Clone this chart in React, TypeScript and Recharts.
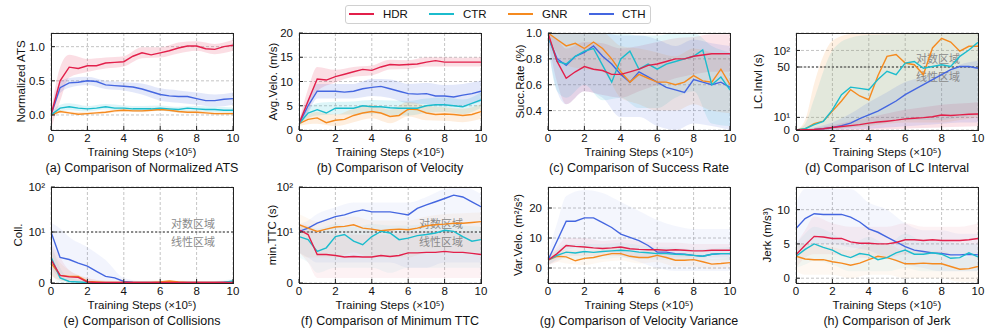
import React from "react";
import {
  ComposedChart,
  Line,
  Area,
  XAxis,
  YAxis,
  CartesianGrid,
  ReferenceLine,
} from "recharts";

const FONT = '"Liberation Sans", Arial, Helvetica, sans-serif';
const CJK = '"Noto Sans CJK SC", "Noto Sans", sans-serif';

const SERIES = ["HDR", "CTR", "GNR", "CTH"] as const;
type S = (typeof SERIES)[number];
const COLORS: Record<S, string> = {
  HDR: "#e21f4a",
  CTR: "#1bbccd",
  GNR: "#f58a1f",
  CTH: "#4466e0",
};

// x positions (×10^5 training steps)
const STEPS = [0, 0.5, 1, 1.5, 2, 2.5, 3, 3.5, 4, 4.5, 5, 5.5, 6, 6.5, 7, 7.5, 8, 8.5, 9, 9.5, 10];
const BAND_STEPS = [0, 0.5, 1, 2, 3, 4, 5, 6, 7, 8, 9, 10];
const X_TICKS = [0, 2, 4, 6, 8, 10];

// (a) normalized ATS
const atsHDR = [0, 0.5, 0.7, 0.68, 0.72, 0.72, 0.76, 0.77, 0.78, 0.86, 0.91, 0.88, 0.91, 0.94, 0.98, 1.01, 1.01, 0.97, 0.96, 1.0, 1.02];
const atsCTR = [0, 0.1, 0.12, 0.1, 0.09, 0.1, 0.12, 0.1, 0.1, 0.09, 0.09, 0.09, 0.1, 0.09, 0.08, 0.1, 0.09, 0.08, 0.08, 0.07, 0.07];
const atsGNR = [0, 0.05, 0.03, 0.01, 0.02, 0.03, 0.04, 0.06, 0.07, 0.06, 0.06, 0.07, 0.08, 0.07, 0.05, 0.04, 0.04, 0.03, 0.02, 0.02, 0.02];
const atsCTH = [0, 0.4, 0.47, 0.48, 0.5, 0.49, 0.44, 0.43, 0.42, 0.41, 0.38, 0.34, 0.3, 0.28, 0.27, 0.27, 0.24, 0.21, 0.21, 0.23, 0.24];
const atsHDRBand = [[-0.2, 0.05], [0.2, 0.7], [0.55, 0.88], [0.63, 0.82], [0.68, 0.84], [0.71, 0.86], [0.83, 0.99], [0.84, 0.99], [0.9, 1.06], [0.94, 1.08], [0.89, 1.04], [0.94, 1.1]];
const atsCTRBand = [[-0.03, 0.03], [0.05, 0.15], [0.07, 0.17], [0.05, 0.13], [0.08, 0.16], [0.06, 0.14], [0.05, 0.13], [0.06, 0.14], [0.04, 0.12], [0.05, 0.13], [0.04, 0.12], [0.03, 0.11]];
const atsGNRBand = [[-0.02, 0.02], [0.03, 0.07], [0.01, 0.05], [0, 0.04], [0.02, 0.06], [0.05, 0.09], [0.04, 0.08], [0.06, 0.1], [0.03, 0.07], [0.02, 0.06], [0, 0.04], [0, 0.04]];
const atsCTHBand = [[-0.05, 0.05], [0.32, 0.48], [0.4, 0.54], [0.44, 0.56], [0.38, 0.5], [0.36, 0.48], [0.3, 0.46], [0.21, 0.39], [0.18, 0.36], [0.15, 0.33], [0.12, 0.3], [0.15, 0.33]];

// (b) average velocity
const veloHDR = [1.3, 6, 10.5, 10.3, 11, 11.5, 12, 12.5, 12.3, 13, 13.5, 13.4, 13.5, 13.6, 14, 14.3, 14, 14, 14, 14, 14];
const veloCTR = [1.3, 3.5, 4.2, 3.5, 4.5, 4.5, 4.5, 5, 4.8, 4.8, 4.6, 4.5, 4.5, 4.5, 5, 5.2, 5.2, 5, 4.8, 5.5, 6.2];
const veloGNR = [1.3, 2.2, 2.5, 1.5, 2, 2.2, 3, 3.5, 3.8, 3.5, 2.8, 3, 4.3, 4.2, 3.5, 3.2, 3.3, 3.2, 3, 3.2, 3.8];
const veloCTH = [1.3, 5, 8, 8, 8, 7.8, 8, 8.5, 8.8, 9, 8.5, 8, 7.5, 7.4, 7.5, 7, 7, 6.8, 7.2, 7.5, 8];
const veloHDRBand = [[0.8, 1.8], [4, 8.5], [8, 13], [9.8, 12.4], [11, 13], [11.3, 13.3], [12.5, 14.5], [12.6, 14.4], [13.1, 15], [13.1, 15], [13.1, 14.9], [13.1, 15]];
const veloCTRBand = [[0.8, 1.8], [2.5, 4.5], [3, 5.5], [3.2, 5.8], [3.2, 5.9], [3.4, 6.2], [3.1, 6.1], [3, 6], [3.5, 6.5], [3.7, 6.7], [3.3, 6.3], [4.6, 7.8]];
const veloGNRBand = [[0.8, 1.8], [1.2, 3.2], [1.3, 3.7], [0.8, 3.2], [1.6, 4.4], [2.4, 5.2], [1.4, 4.2], [2.8, 5.8], [2, 5], [1.9, 4.7], [1.6, 4.4], [2.3, 5.3]];
const veloCTHBand = [[0.8, 1.8], [3.5, 6.5], [6.5, 9.5], [6.5, 9.5], [6.5, 9.5], [7, 10.5], [6.6, 10.4], [5.5, 9.5], [5.3, 9.7], [4.9, 9.3], [5, 9.5], [5.8, 10.2]];

// (c) success rate
const succHDR = [1.0, 0.78, 0.65, 0.7, 0.74, 0.72, 0.71, 0.68, 0.68, 0.7, 0.72, 0.75, 0.76, 0.78, 0.8, 0.8, 0.82, 0.83, 0.84, 0.84, 0.84];
const succCTR = [0.98, 0.78, 0.76, 0.82, 0.86, 0.88, 0.75, 0.62, 0.8, 0.86, 0.72, 0.76, 0.72, 0.76, 0.78, 0.8, 0.82, 0.87, 0.6, 0.66, 0.56];
const succGNR = [1.0, 0.95, 0.9, 0.92, 0.88, 0.93, 0.88, 0.8, 0.7, 0.62, 0.68, 0.65, 0.62, 0.62, 0.6, 0.62, 0.67, 0.63, 0.62, 0.72, 0.6];
const succCTH = [0.97, 0.8, 0.75, 0.82, 0.85, 0.9, 0.82, 0.76, 0.68, 0.62, 0.7, 0.66, 0.62, 0.58, 0.56, 0.54, 0.64, 0.62, 0.6, 0.62, 0.58];
const succHDRBand = [[0.95, 1], [0.62, 0.95], [0.45, 0.88], [0.55, 0.93], [0.52, 0.92], [0.5, 0.88], [0.55, 0.9], [0.6, 0.93], [0.65, 0.96], [0.68, 0.97], [0.7, 0.99], [0.7, 0.99]];
const succCTRBand = [[0.9, 1], [0.55, 1], [0.5, 1], [0.6, 1], [0.48, 1], [0.5, 1], [0.42, 0.98], [0.42, 0.98], [0.5, 1], [0.55, 1], [0.3, 0.9], [0.28, 0.85]];
const succGNRBand = [[0.95, 1], [0.85, 1], [0.75, 1], [0.72, 1], [0.7, 1], [0.5, 0.9], [0.45, 0.88], [0.4, 0.85], [0.4, 0.82], [0.45, 0.88], [0.4, 0.85], [0.38, 0.82]];
const succCTHBand = [[0.9, 1], [0.55, 1], [0.45, 1], [0.55, 1], [0.5, 1], [0.35, 0.98], [0.35, 0.98], [0.28, 0.95], [0.25, 0.9], [0.3, 0.95], [0.28, 0.92], [0.25, 0.9]];

// (d) lane-change interval (s)
const lcHDR = [0, 0.2, 0.5, 1, 2, 2.8, 3.5, 4.3, 5.5, 6.3, 7, 7.8, 8.8, 9.3, 9.8, 10.5, 11.9, 11.5, 12, 12.5, 12.7];
const lcCTR = [0, 1, 4.2, 6.9, 16, 28, 34, 33, 32, 40, 46.6, 44, 59, 63, 49, 51, 55, 51, 78, 102, 140];
const lcGNR = [0, 1, 5, 7, 15, 23, 32, 27, 24, 43, 78, 84, 59, 55, 44, 111, 166, 142, 97, 119, 119];
const lcCTH = [0, 0.2, 0.5, 1, 2, 3.5, 5.5, 9, 12, 15, 19, 23, 28, 32, 36, 40, 44, 48, 51, 51, 49];
const lcHDRBand = [[0, 0], [0, 0.5], [0, 1.5], [0, 4], [0, 7], [0.2, 10], [0.5, 13], [1, 16], [1.5, 18], [2, 20], [2.5, 21], [3, 22]];
const lcCTRBand = [[0, 0], [0, 5], [0, 25], [0.5, 100], [2, 170], [4, 190], [6, 195], [8, 200], [8, 200], [8, 200], [10, 200], [12, 200]];
const lcGNRBand = [[0, 0], [0, 8], [0, 37], [0.5, 150], [2, 200], [3, 210], [5, 210], [6, 210], [6, 210], [6, 210], [8, 210], [10, 210]];
const lcCTHBand = [[0, 0], [0, 0.5], [0, 2], [0, 6], [0.5, 13], [1, 22], [2, 30], [3, 38], [4, 42], [5, 45], [6, 55], [6, 65]];

// (e) collisions
const collHDR = [4.6, 1.5, 1.2, 1.1, 0.2, 0.1, 0.1, 0.1, 0.1, 0.1, 0.1, 0.1, 0.1, 0.1, 0.1, 0.1, 0.1, 0.1, 0.1, 0.1, 0.1];
const collCTR = [5.1, 1.0, 0.3, 0.2, 0.1, 0.05, 0.05, 0.05, 0.05, 0.05, 0.05, 0.05, 0.05, 0.05, 0.05, 0.05, 0.05, 0.05, 0.05, 0.1, 0.4];
const collGNR = [3.9, 1.5, 1.3, 1.3, 0.3, 0.2, 0.1, 0.1, 0.1, 0.1, 0.1, 0.1, 0.2, 0.4, 0.2, 0.1, 0.1, 0.1, 0.1, 0.1, 0.2];
const collCTH = [10, 5.0, 4.6, 3.9, 3.3, 2.3, 1.3, 1.0, 0.3, 0.15, 0.1, 0.1, 0.1, 0.1, 0.1, 0.1, 0.1, 0.1, 0.1, 0.15, 0.2];
const collHDRBand = [[1.5, 8], [0.5, 5], [0.3, 2.5], [0, 1], [0, 0.4], [0, 0.3], [0, 0.3], [0, 0.3], [0, 0.3], [0, 0.3], [0, 0.3], [0, 0.3]];
const collCTRBand = [[2, 8], [0, 3], [0, 1], [0, 0.5], [0, 0.3], [0, 0.2], [0, 0.2], [0, 0.3], [0, 0.3], [0, 0.3], [0, 0.4], [0, 0.8]];
const collGNRBand = [[1.5, 7], [0.5, 4], [0.3, 2.5], [0, 1], [0, 0.5], [0, 0.4], [0, 0.4], [0, 0.6], [0, 0.5], [0, 0.4], [0, 0.3], [0, 0.3]];
const collCTHBand = [[3, 16], [1, 12], [0.5, 9], [0.2, 7], [0, 4.5], [0, 1], [0, 0.4], [0, 0.3], [0, 0.3], [0, 0.3], [0, 0.3], [0, 0.5]];

// (f) minimum TTC (s)
const ttcHDR = [11.2, 9.5, 5.6, 5.6, 5.4, 5.1, 5.2, 5.1, 5.1, 5.4, 5.2, 5.4, 5.9, 5.9, 6.0, 6.0, 6.2, 6.0, 6.0, 5.8, 5.6];
const ttcCTR = [9.1, 8.5, 6.2, 6.9, 9.1, 9.5, 8.2, 7.5, 9.1, 10.3, 9.8, 8.5, 8.8, 9.3, 9.5, 9.8, 10.9, 10.3, 9.1, 8.2, 8.5];
const ttcGNR = [14.5, 12.2, 10.3, 11.6, 12.9, 13.3, 14.5, 12.2, 11.6, 10.7, 11.2, 11.6, 11.2, 12.2, 13.8, 14.5, 15, 15.7, 15.7, 16.3, 17];
const ttcCTH = [10.3, 12.2, 15.7, 18.6, 22, 24, 28, 31, 28, 28, 28, 26, 24, 33.5, 40, 47, 55.5, 66, 60, 47, 36.5];
const ttcHDRBand = [[6, 15], [4, 14], [1, 10], [1, 9.5], [1, 9.5], [1, 9.5], [1, 9.5], [1, 10], [1, 10], [1, 10], [1, 10], [1, 9.5]];
const ttcCTRBand = [[5, 14], [4, 13], [2, 12], [3, 15], [3, 13], [3, 15], [2, 14], [3, 14], [3, 15], [3, 16], [3, 14], [3, 13]];
const ttcGNRBand = [[6, 25], [5, 20], [5, 17], [5, 20], [6, 22], [5, 18], [5, 18], [5, 18], [6, 22], [6, 25], [6, 26], [6, 27]];
const ttcCTHBand = [[6, 15], [5, 18], [4, 25], [4, 35], [4, 45], [4, 45], [4, 45], [3, 45], [3, 60], [4, 90], [4, 100], [4, 70]];

// (g) velocity variance
const varHDR = [2.6, 4.8, 7.5, 7.2, 7.0, 6.7, 6.5, 6.7, 7.0, 6.4, 6.2, 6.1, 6.1, 5.9, 6.1, 5.9, 5.7, 5.7, 5.9, 5.9, 5.9];
const varCTR = [2.6, 4.2, 5.3, 5.0, 5.5, 5.2, 5.5, 5.7, 5.9, 5.7, 5.3, 5.1, 4.8, 4.8, 4.6, 4.5, 4.2, 3.9, 4.6, 4.8, 4.8];
const varGNR = [2.6, 3.9, 3.7, 2.4, 3.2, 3.5, 4.2, 4.8, 4.8, 3.9, 3.5, 3.5, 4.2, 3.5, 2.6, 2.6, 2.8, 2.1, 1.3, 1.5, 1.8];
const varCTH = [2.6, 9.1, 15.6, 15.6, 16.7, 16.7, 15.1, 13.5, 11.3, 10.2, 9.1, 7.5, 5.3, 5.3, 4.8, 4.6, 4.2, 3.9, 4.6, 4.8, 4.8];
const varHDRBand = [[1, 4], [2, 7], [4, 10], [4, 10], [4, 9], [4, 9.5], [3.5, 9], [3.5, 8.5], [3.5, 8.5], [3.5, 8], [3.5, 8], [3.5, 8]];
const varCTRBand = [[1, 4], [2.5, 6], [3, 8], [3, 8], [3, 8], [3.5, 8.3], [3, 7.7], [2.8, 7], [2.5, 6.8], [2.5, 6.2], [2.5, 6.5], [2.5, 7]];
const varGNRBand = [[1, 4], [2, 6], [1.5, 6], [1, 5.5], [2, 6.5], [2.5, 7], [1.5, 5.5], [2, 6.5], [0.5, 4.5], [0.5, 5], [-0.5, 3], [0, 3.5]];
const varCTHBand = [[1, 5], [3, 15], [6, 24], [7, 26], [6, 25], [4, 22], [2, 19], [0, 16], [-1, 14], [-1, 13], [-1, 13], [-1, 13]];

// (h) jerk
const jerkHDR = [3.4, 4.8, 6.1, 6.0, 5.8, 5.8, 5.3, 5.1, 5.1, 5.0, 5.0, 5.2, 5.6, 5.6, 5.5, 5.6, 5.5, 5.5, 5.5, 5.6, 5.8];
const jerkCTR = [3.2, 4.2, 5.0, 4.5, 4.1, 3.4, 3.0, 3.6, 3.4, 2.7, 3.0, 3.7, 4.1, 3.5, 3.5, 3.7, 3.5, 2.9, 3.0, 3.7, 3.1];
const jerkGNR = [3.2, 2.8, 2.7, 2.7, 2.4, 2.2, 1.9, 2.2, 2.7, 3.2, 3.0, 2.6, 2.1, 2.1, 2.2, 2.1, 2.1, 1.7, 1.3, 1.4, 1.7];
const jerkCTH = [7.25, 8.7, 9.4, 9.3, 9.3, 9.3, 8.9, 8.2, 7.2, 6.7, 6.0, 5.3, 4.6, 4.1, 3.9, 3.7, 3.6, 3.4, 3.4, 3.5, 3.4];
const jerkHDRBand = [[1.5, 5], [3, 7], [3.5, 9], [3.5, 8], [3, 7.5], [3, 7.5], [3, 7.5], [3.5, 8], [3.5, 7.5], [3.5, 7.5], [3.5, 7.5], [3.5, 8]];
const jerkCTRBand = [[1.5, 5], [2, 6.5], [2.5, 7.5], [2, 6.5], [1, 5], [1, 6], [1, 5], [1.5, 6.5], [1, 5.5], [1, 5.5], [1, 5], [1, 5]];
const jerkGNRBand = [[1, 5], [0.5, 5], [0.5, 5], [0.5, 4.5], [0, 4], [0.5, 5], [0.5, 5], [0, 4], [0, 4], [0, 4], [-0.5, 3], [-0.5, 3.5]];
const jerkCTHBand = [[3, 11], [4, 13], [5, 13], [5, 13], [4.5, 13], [4, 11], [3, 10], [2, 8], [1.5, 7], [1, 7], [1, 6.5], [1, 6.5]];

// piecewise axis: linear below the threshold, log above (pixel-ish units)
const linLog = (th: number, linU: number, decU: number) => (v: number) =>
  v <= th ? (v / th) * linU : linU + decU * Math.log10(v / th);
const lcAxis = linLog(50, 63, 55);
const cntAxis = linLog(10, 51, 45);

type Panel = {
  x: number;
  y: number;
  h: number;
  mean: Record<S, number[]>;
  band: Record<S, number[][]>;
  domain: [number, number];
  ticks: number[];
  tickLabels: string[];
  scale?: (v: number) => number;
  threshold?: number;
  yLabel: string;
  yLabelDx: number;
  caption: string;
  bandOpacity: number;
};

const PW = 182;
const ML = 50;
const MT = 6;
const MR = 8;
const XH = 32;

const panels: Panel[] = [
  {
    x: 51, y: 33, h: 97,
    mean: { HDR: atsHDR, CTR: atsCTR, GNR: atsGNR, CTH: atsCTH },
    band: { HDR: atsHDRBand, CTR: atsCTRBand, GNR: atsGNRBand, CTH: atsCTHBand },
    domain: [-0.22, 1.2], ticks: [0, 0.5, 1], tickLabels: ["0.0", "0.5", "1.0"],
    yLabel: "Normalized ATS", yLabelDx: -5, caption: "(a) Comparison of Normalized ATS", bandOpacity: 0.15,
  },
  {
    x: 299, y: 33, h: 97,
    mean: { HDR: veloHDR, CTR: veloCTR, GNR: veloGNR, CTH: veloCTH },
    band: { HDR: veloHDRBand, CTR: veloCTRBand, GNR: veloGNRBand, CTH: veloCTHBand },
    domain: [0, 20], ticks: [0, 5, 10, 15, 20], tickLabels: ["0", "5", "10", "15", "20"],
    yLabel: "Avg.Velo. (m/s)", yLabelDx: -1, caption: "(b) Comparison of Velocity", bandOpacity: 0.15,
  },
  {
    x: 548, y: 33, h: 97,
    mean: { HDR: succHDR, CTR: succCTR, GNR: succGNR, CTH: succCTH },
    band: { HDR: succHDRBand, CTR: succCTRBand, GNR: succGNRBand, CTH: succCTHBand },
    domain: [0.25, 1.0], ticks: [0.4, 0.6, 0.8, 1.0], tickLabels: ["0.4", "0.6", "0.8", "1.0"],
    yLabel: "Succ.Rate (%)", yLabelDx: -3, caption: "(c) Comparison of Success Rate", bandOpacity: 0.12,
  },
  {
    x: 796, y: 33, h: 97,
    mean: { HDR: lcHDR, CTR: lcCTR, GNR: lcGNR, CTH: lcCTH },
    band: { HDR: lcHDRBand, CTR: lcCTRBand, GNR: lcGNRBand, CTH: lcCTHBand },
    domain: [0, 97], ticks: [0, 10, 50, 100], tickLabels: ["0", "10¹", "50", "10²"],
    scale: lcAxis, threshold: 50,
    yLabel: "LC.Intvl (s)", yLabelDx: -13, caption: "(d) Comparison of LC Interval", bandOpacity: 0.13,
  },
  {
    x: 51, y: 187, h: 96,
    mean: { HDR: collHDR, CTR: collCTR, GNR: collGNR, CTH: collCTH },
    band: { HDR: collHDRBand, CTR: collCTRBand, GNR: collGNRBand, CTH: collCTHBand },
    domain: [0, 96], ticks: [0, 10, 100], tickLabels: ["0", "10¹", "10²"],
    scale: cntAxis, threshold: 10,
    yLabel: "Coll.", yLabelDx: -8, caption: "(e) Comparison of Collisions", bandOpacity: 0.07,
  },
  {
    x: 299, y: 187, h: 96,
    mean: { HDR: ttcHDR, CTR: ttcCTR, GNR: ttcGNR, CTH: ttcCTH },
    band: { HDR: ttcHDRBand, CTR: ttcCTRBand, GNR: ttcGNRBand, CTH: ttcCTHBand },
    domain: [0, 96], ticks: [0, 10, 100], tickLabels: ["0", "10¹", "10²"],
    scale: cntAxis, threshold: 10,
    yLabel: "min.TTC (s)", yLabelDx: -2, caption: "(f) Comparison of Minimum TTC", bandOpacity: 0.06,
  },
  {
    x: 548, y: 187, h: 96,
    mean: { HDR: varHDR, CTR: varCTR, GNR: varGNR, CTH: varCTH },
    band: { HDR: varHDRBand, CTR: varCTRBand, GNR: varGNRBand, CTH: varCTHBand },
    domain: [-5, 27], ticks: [0, 10, 20], tickLabels: ["0", "10", "20"],
    yLabel: "Var.Velo. (m²/s²)", yLabelDx: -5, caption: "(g) Comparison of Velocity Variance", bandOpacity: 0.06,
  },
  {
    x: 796, y: 187, h: 96,
    mean: { HDR: jerkHDR, CTR: jerkCTR, GNR: jerkGNR, CTH: jerkCTH },
    band: { HDR: jerkHDRBand, CTR: jerkCTRBand, GNR: jerkGNRBand, CTH: jerkCTHBand },
    domain: [-0.7, 13.3], ticks: [0, 5, 10], tickLabels: ["0", "5", "10"],
    yLabel: "Jerk (m/s³)", yLabelDx: -4, caption: "(h) Comparison of Jerk", bandOpacity: 0.06,
  },
];

const RegionLabels = (props: any) => {
  const vb = props.viewBox || {};
  const cx = vb.x + vb.width * 0.78;
  const style = { fill: "#8a8a8a", fontSize: 11, fontFamily: CJK };
  return (
    <g>
      <text x={cx} y={vb.y - 4} textAnchor="middle" style={style}>对数区域</text>
      <text x={cx} y={vb.y + 14} textAnchor="middle" style={style}>线性区域</text>
    </g>
  );
};

function PanelChart({ p }: { p: Panel }) {
  const f = p.scale ?? ((v: number) => v);
  const rows = STEPS.map((x, i) => {
    const r: Record<string, number> = { x };
    SERIES.forEach((s) => (r[s] = f(p.mean[s][i])));
    return r;
  });
  const tickVals = p.ticks.map(f);
  const fmt = (v: number) => {
    const i = tickVals.findIndex((t) => Math.abs(t - v) < 1e-6);
    return i >= 0 ? p.tickLabels[i] : "";
  };
  const W = PW + ML + MR;
  const H = p.h + MT + XH;
  return (
    <div style={{ position: "absolute", left: p.x - ML, top: p.y - MT, width: W, height: H }}>
      <ComposedChart width={W} height={H} data={rows} margin={{ top: MT, right: MR, bottom: 0, left: 0 }}>
        <CartesianGrid stroke="#b5b5b5" strokeDasharray="3 2" strokeWidth={0.8} />
        <XAxis
          dataKey="x"
          type="number"
          domain={[0, 10]}
          ticks={X_TICKS}
          interval={0}
          allowDataOverflow
          height={XH}
          axisLine={false}
          tickSize={-4}
          tickMargin={8}
          tickLine={{ stroke: "#222" }}
          tick={{ fill: "#111", fontSize: 11.5, fontFamily: FONT }}
          label={{ value: "Training Steps (×10⁵)", position: "insideBottom", offset: 6, fill: "#111", fontSize: 11.5, fontFamily: FONT }}
        />
        <YAxis
          type="number"
          domain={p.domain}
          ticks={tickVals}
          interval={0}
          allowDataOverflow
          width={ML}
          axisLine={false}
          tickSize={-4}
          tickMargin={10}
          tickFormatter={fmt}
          tickLine={{ stroke: "#222" }}
          tick={{ fill: "#111", fontSize: 11.5, fontFamily: FONT }}
          label={{ value: p.yLabel, angle: -90, position: "center", dx: p.yLabelDx, fill: "#111", fontSize: 11.5, fontFamily: FONT }}
        />
        {SERIES.map((s) => (
          <Area
            key={"band" + s}
            data={BAND_STEPS.map((x, i) => ({ x, r: [f(p.band[s][i][0]), f(p.band[s][i][1])] }))}
            dataKey="r"
            type="monotone"
            stroke="none"
            fill={COLORS[s]}
            fillOpacity={p.bandOpacity}
            dot={false}
            activeDot={false}
            isAnimationActive={false}
          />
        ))}
        {p.threshold !== undefined && (
          <ReferenceLine y={f(p.threshold)} stroke="#333" strokeDasharray="2 2" strokeWidth={1} label={RegionLabels} />
        )}
        {["CTH", "GNR", "CTR", "HDR"].map((s) => (
          <Line
            key={"line" + s}
            dataKey={s}
            type="linear"
            stroke={COLORS[s as S]}
            strokeWidth={1.4}
            dot={false}
            activeDot={false}
            isAnimationActive={false}
          />
        ))}
      </ComposedChart>
      <div
        style={{
          position: "absolute",
          left: ML,
          top: MT,
          width: PW + 1,
          height: p.h + 1,
          border: "1px solid #222",
          boxSizing: "border-box",
          pointerEvents: "none",
        }}
      />
      <div
        style={{
          position: "absolute",
          left: ML - 40,
          width: PW + 80,
          top: MT + p.h + 30,
          textAlign: "center",
          fontSize: 12.5,
          lineHeight: "16px",
          color: "#111",
          whiteSpace: "nowrap",
        }}
      >
        {p.caption}
      </div>
    </div>
  );
}

function LegendBox() {
  const items: { s: S; lx: number; tx: number }[] = [
    { s: "HDR", lx: 349, tx: 383 },
    { s: "CTR", lx: 429, tx: 463 },
    { s: "GNR", lx: 508, tx: 542 },
    { s: "CTH", lx: 589, tx: 622 },
  ];
  return (
    <div>
      <div
        style={{
          position: "absolute",
          left: 345,
          top: 5,
          width: 306,
          height: 19,
          border: "1px solid #d0d0d0",
          borderRadius: 3,
          boxSizing: "border-box",
        }}
      />
      {items.map((it) => (
        <React.Fragment key={it.s}>
          <div style={{ position: "absolute", left: it.lx, top: 13, width: 25, height: 2, background: COLORS[it.s] }} />
          <div style={{ position: "absolute", left: it.tx, top: 7, fontSize: 11.5, lineHeight: "14px", color: "#111" }}>{it.s}</div>
        </React.Fragment>
      ))}
    </div>
  );
}

export default function App() {
  return (
    <div
      style={{
        position: "fixed",
        left: 0,
        top: 0,
        width: 997,
        height: 332,
        background: "#fff",
        fontFamily: FONT,
        overflow: "hidden",
      }}
    >
      <LegendBox />
      {panels.map((p, i) => (
        <PanelChart key={i} p={p} />
      ))}
    </div>
  );
}
